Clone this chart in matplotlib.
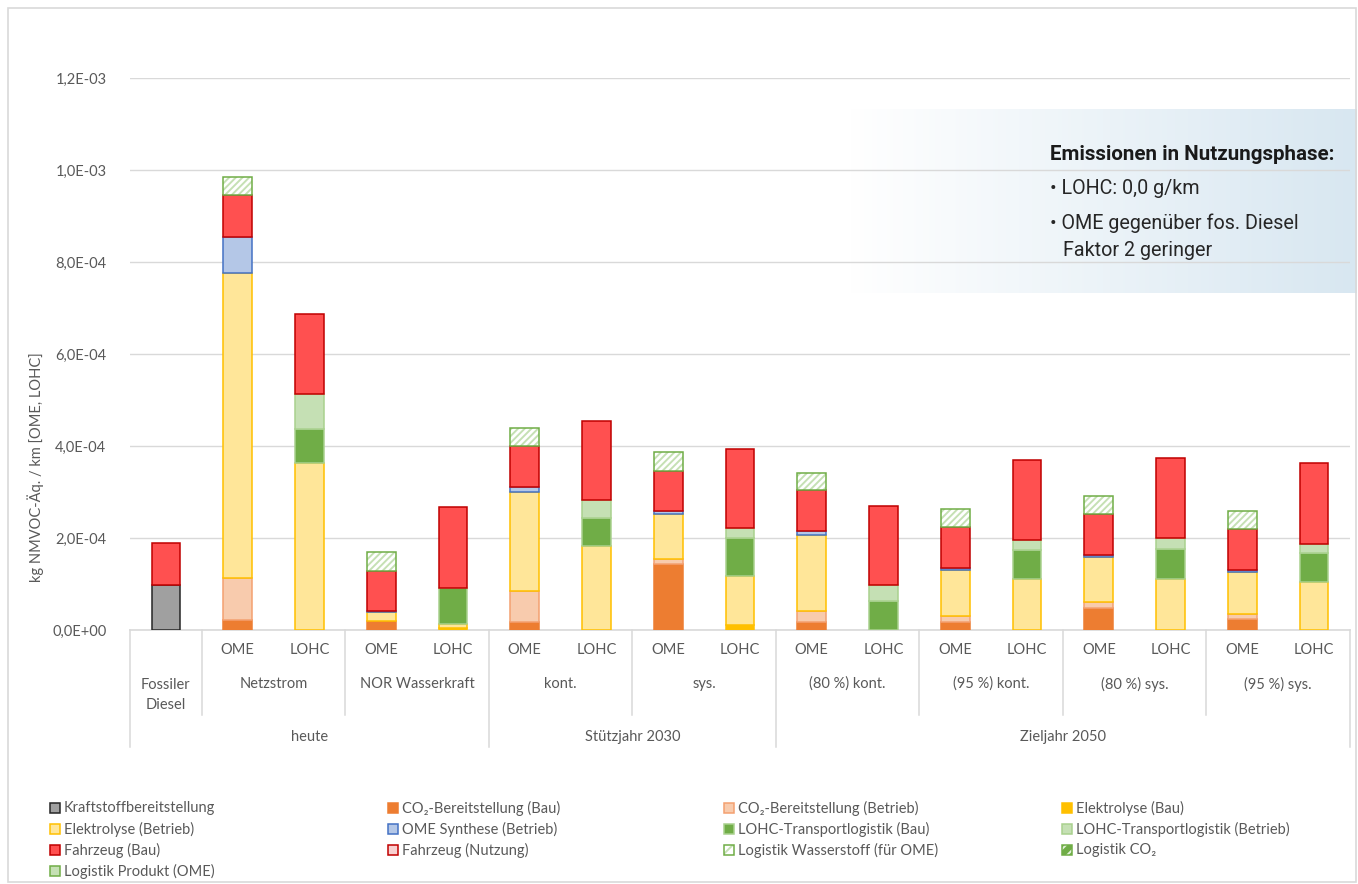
import numpy as np
import matplotlib
matplotlib.use("Agg")
import matplotlib.pyplot as plt
from matplotlib.patches import Rectangle
from matplotlib.ticker import FuncFormatter

# ===============================
# DATA (values in 1e-4 kg NMVOC-Aeq. / km)
# ===============================
fuel = ["", "OME", "LOHC", "OME", "LOHC", "OME", "LOHC", "OME", "LOHC",
        "OME", "LOHC", "OME", "LOHC", "OME", "LOHC", "OME", "LOHC"]
groups = ["Fossiler\nDiesel", "Netzstrom", "NOR Wasserkraft", "kont.", "sys.",
          "(80 %) kont.", "(95 %) kont.", "(80 %) sys.", "(95 %) sys."]
group_size = [1, 2, 2, 2, 2, 2, 2, 2, 2]
periods = ["heute", "Stützjahr 2030", "Zieljahr 2050"]
period_size = [5, 4, 8]

kraftstoff = [0.98, 0, 0, 0, 0, 0, 0, 0, 0, 0, 0, 0, 0, 0, 0, 0, 0]
co2_bau = [0, 0.22, 0, 0.20, 0, 0.17, 0, 1.43, 0, 0.17, 0, 0.17, 0, 0.48, 0, 0.23, 0]
co2_betrieb = [0, 0.91, 0, 0, 0, 0.67, 0, 0.12, 0, 0.24, 0, 0.14, 0, 0.13, 0, 0.12, 0]
elektrolyse_bau = [0, 0, 0.01, 0, 0.04, 0, 0.01, 0, 0.10, 0, 0, 0, 0.01, 0, 0.01, 0, 0.01]
elektrolyse_betrieb = [0, 6.63, 3.61, 0.19, 0.10, 2.17, 1.81, 0.98, 1.07, 1.65, 0,
                       0.99, 1.10, 0.98, 1.10, 0.91, 1.03]
ome_synthese = [0, 0.78, 0, 0.03, 0, 0.09, 0, 0.065, 0, 0.09, 0, 0.05, 0, 0.05, 0, 0.05, 0]
lohc_bau = [0, 0, 0.74, 0, 0.78, 0, 0.62, 0, 0.82, 0, 0.63, 0, 0.62, 0, 0.66, 0, 0.64]
lohc_betrieb = [0, 0, 0.76, 0, 0, 0, 0.38, 0, 0.22, 0, 0.35, 0, 0.22, 0, 0.23, 0, 0.20]
fahrzeug_bau = [0.91, 0.91, 1.74, 0.87, 1.76, 0.89, 1.72, 0.87, 1.72, 0.89, 1.72,
                0.89, 1.74, 0.89, 1.74, 0.88, 1.74]
fahrzeug_nutzung = [0] * 17
logistik_h2 = [0, 0.39, 0, 0.41, 0, 0.40, 0, 0.40, 0, 0.38, 0, 0.40, 0, 0.38, 0, 0.40, 0]
logistik_co2 = [0] * 17
logistik_produkt = [0] * 17

# label, values, face, edge, hatch, hatch colour
series = [
    ("Kraftstoffbereitstellung", kraftstoff, "#A0A0A0", "#262626", None, None),
    ("CO₂-Bereitstellung (Bau)", co2_bau, "#ED7D31", "#ED7D31", None, None),
    ("CO₂-Bereitstellung (Betrieb)", co2_betrieb, "#F8CBAD", "#F4A070", None, None),
    ("Elektrolyse (Bau)", elektrolyse_bau, "#FFC000", "#FFC000", None, None),
    ("Elektrolyse (Betrieb)", elektrolyse_betrieb, "#FFE699", "#FFC000", None, None),
    ("OME Synthese (Betrieb)", ome_synthese, "#B4C7E7", "#4472C4", None, None),
    ("LOHC-Transportlogistik (Bau)", lohc_bau, "#70AD47", "#A9D18E", None, None),
    ("LOHC-Transportlogistik (Betrieb)", lohc_betrieb, "#C5E0B4", "#A9D18E", None, None),
    ("Fahrzeug (Bau)", fahrzeug_bau, "#FF5050", "#C00000", None, None),
    ("Fahrzeug (Nutzung)", fahrzeug_nutzung, "#F8D0D0", "#C00000", None, None),
    ("Logistik Wasserstoff (für OME)", logistik_h2, "#FFFFFF", "#70AD47", "/////", "#C5E0B4"),
    ("Logistik CO₂", logistik_co2, "#70AD47", "#70AD47", "///", "#E2F0D9"),
    ("Logistik Produkt (OME)", logistik_produkt, "#C5E0B4", "#70AD47", None, None),
]

# ===============================
# FIGURE SETUP
# ===============================
W, H = 1358, 884
plt.rcParams['font.family'] = ['Lato', 'DejaVu Sans']
plt.rcParams['hatch.linewidth'] = 1.4
txt_col = "#595959"
grid_col = "#D9D9D9"

fig = plt.figure(figsize=(W / 100, H / 100), dpi=100)


def fx(px):
    return px / W


def fy(py):
    return 1 - py / H


# outer frame
fig.add_artist(Rectangle((fx(8), fy(882)), fx(1348), (874) / H, transform=fig.transFigure,
                         fill=False, edgecolor=grid_col, linewidth=1.2))

# gradient note box (behind the plot)
box_ax = fig.add_axes([fx(850), fy(293), fx(1357 - 850), (293 - 109) / H], zorder=0)
grad = np.linspace(0, 1, 256)
c0 = np.array([1.0, 1.0, 1.0])
c1 = np.array([216, 231, 241]) / 255
img = c0[None, :] + (c1 - c0)[None, :] * grad[:, None]
box_ax.imshow(img[None, :, :], aspect='auto', extent=[0, 1, 0, 1])
box_ax.axis('off')

ax = fig.add_axes([fx(130), fy(630), fx(1350 - 130), (630 - 78) / H], zorder=1)
ax.patch.set_alpha(0)

# ===============================
# STACKED BARS
# ===============================
x = np.arange(len(fuel))
bottom = np.zeros(len(fuel))
bw = 0.4
for label, vals, face, edge, hatch, hcol in series:
    v = np.array(vals) * 1e-4
    m = v > 0
    if m.any():
        if hatch:
            ax.bar(x[m], v[m], bw, bottom=bottom[m], color=face, edgecolor=hcol, hatch=hatch,
                   linewidth=0, zorder=3)
            ax.bar(x[m], v[m], bw, bottom=bottom[m], fill=False, edgecolor=edge,
                   linewidth=1.1, zorder=3)
        else:
            ax.bar(x[m], v[m], bw, bottom=bottom[m], color=face, edgecolor=edge,
                   linewidth=1.1, zorder=3)
    bottom += v

ax.set_xlim(-0.5, len(fuel) - 0.5)
ax.set_ylim(0, 1.2e-3)
ax.set_yticks(np.arange(0, 1.21e-3, 0.2e-3))
ax.yaxis.set_major_formatter(FuncFormatter(lambda v, p: f"{v:.1E}".replace('.', ',')))
ax.grid(axis='y', color=grid_col, linewidth=1.0, zorder=0)
ax.set_axisbelow(True)
for s in ['top', 'right', 'left']:
    ax.spines[s].set_visible(False)
ax.spines['bottom'].set_color(grid_col)
ax.spines['bottom'].set_linewidth(1.2)
ax.tick_params(axis='y', length=0, pad=17, labelsize=10.5, labelcolor=txt_col)
ax.tick_params(axis='x', length=0, pad=9, labelsize=10.5, labelcolor=txt_col)
ax.set_xticks(x)
ax.set_xticklabels(fuel)

fig.text(fx(36), fy(467), "kg NMVOC-Äq. / km [OME, LOHC]", rotation=90,
         ha='center', va='center', fontsize=10.5, color=txt_col)

# ===============================
# MULTI-LEVEL CATEGORY AXIS
# ===============================
xt = ax.get_xaxis_transform()


def ay(py):
    return (630 - py) / (630 - 78)


start = -0.5
for g, n in zip(groups, group_size):
    ypos = 695 if "\n" in g else 684
    ax.text(start + n / 2, ay(ypos), g, transform=xt, ha='center', va='center',
            fontsize=10.5, color=txt_col, linespacing=1.55)
    start += n
start = -0.5
for p, n in zip(periods, period_size):
    ax.text(start + n / 2, ay(737), p, transform=xt, ha='center', va='center',
            fontsize=10.5, color=txt_col)
    start += n

# separators
period_edges = set(np.cumsum([0] + period_size) - 0.5)
edges = np.cumsum([0] + group_size) - 0.5
for e in edges:
    y_end = 747 if e in period_edges else 715
    ax.plot([e, e], [0, ay(y_end)], transform=xt, color=grid_col, linewidth=1.1,
            clip_on=False)

# ===============================
# NOTE TEXT
# ===============================
note_font = ['Roboto', 'DejaVu Sans']
fig.text(fx(1050), fy(154), "Emissionen in Nutzungsphase:", fontsize=14.8, fontweight='bold',
         color="#1A1A1A", va='center', family=note_font)
fig.text(fx(1050), fy(189), "• LOHC: 0,0 g/km", fontsize=14.2, color="#262626",
         va='center', family=note_font)
fig.text(fx(1050), fy(223), "• OME gegenüber fos. Diesel", fontsize=14.2, color="#262626",
         va='center', family=note_font)
fig.text(fx(1063), fy(251), "Faktor 2 geringer", fontsize=14.2, color="#262626",
         va='center', family=note_font)

# ===============================
# LEGEND (4 columns, row-major)
# ===============================
col_x = [50, 388, 724, 1062]
row_y = [808, 829, 850, 871]
sq = 10
for i, (label, vals, face, edge, hatch, hcol) in enumerate(series):
    r, c = divmod(i, 4)
    x0, y0 = col_x[c], row_y[r]
    if hatch:
        fig.add_artist(Rectangle((fx(x0), fy(y0 + sq / 2)), fx(sq), sq / H,
                                 transform=fig.transFigure, facecolor=face,
                                 edgecolor=hcol, hatch="///", linewidth=0))
        fig.add_artist(Rectangle((fx(x0), fy(y0 + sq / 2)), fx(sq), sq / H,
                                 transform=fig.transFigure, fill=False,
                                 edgecolor=edge, linewidth=1.1))
    else:
        fig.add_artist(Rectangle((fx(x0), fy(y0 + sq / 2)), fx(sq), sq / H,
                                 transform=fig.transFigure, facecolor=face,
                                 edgecolor=edge, linewidth=1.1))
    fig.text(fx(x0 + sq + 4), fy(y0), label, fontsize=10.5, color=txt_col, va='center')

fig.savefig("out.png", dpi=100)
